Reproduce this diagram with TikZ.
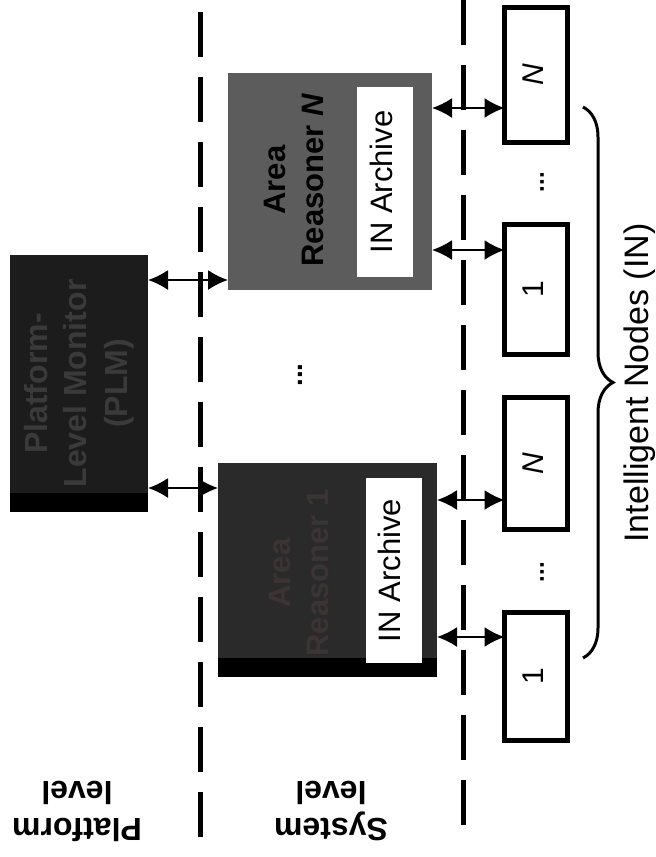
\documentclass[tikz,border=0pt]{standalone}
\usepackage{fontspec}
\setmainfont{Liberation Sans}
\usepackage{graphicx}
\usetikzlibrary{arrows.meta,decorations.pathreplacing,positioning}

\definecolor{plmfill}{HTML}{1C1C1C}
\definecolor{plmtext}{HTML}{3A3A3A}
\definecolor{arfill}{HTML}{2A2A2A}
\definecolor{artext}{HTML}{3C3434}
\definecolor{arNfill}{HTML}{5C5C5C}

\newcommand{\vtext}[1]{\rotatebox{90}{\begin{tabular}{@{}c@{}}#1\end{tabular}}}

\begin{document}
\begin{tikzpicture}[x=1pt, y=-1pt,
    link/.style={{Latex[length=20pt,width=20pt]}-{Latex[length=20pt,width=20pt]}, line width=2pt},
    levelline/.style={line width=5pt, dash pattern=on 45pt off 20pt},
    blockbox/.style={inner sep=0pt, outer sep=0pt},
    archive/.style={fill=white, inner sep=0pt, minimum width=56pt, font=\fontsize{31}{36}\selectfont},
    inbox/.style={draw, line width=5pt, fill=white, inner sep=0pt, outer sep=0pt, minimum width=63pt, font=\fontsize{30}{36}\selectfont},
    dots/.style={rotate=90, font=\bfseries\fontsize{24}{28}\selectfont},
    levellabel/.style={rotate=180, align=center, font=\bfseries\fontsize{32}{37}\selectfont}]

\useasboundingbox (0,0) rectangle (656,857);

\draw[levelline] (200,12) -- (200,842);
\draw[levelline] (463,0) -- (463,837);

\node[blockbox, fill=plmfill, text=plmtext, minimum width=138pt, minimum height=257pt,
    font=\bfseries\fontsize{32}{40}\selectfont] (plm) at (79,383.5) {\vtext{Platform-\\Level Monitor\\(PLM)}};
\fill (plm.south west) rectangle ([yshift=19pt]plm.south east);

\node[blockbox, fill=arNfill, minimum width=204pt, minimum height=217pt] (arN) at (330,181.5) {};
\node[font=\bfseries\fontsize{31}{38}\selectfont] (arNname) at (297,180) {\vtext{Area\\Reasoner \textit{N}}};
\node[archive, minimum height=190pt] (arNarch) at (385,182) {\vtext{IN Archive}};

\node[blockbox, fill=arfill, minimum width=219pt, minimum height=214pt] (ar1) at (327.5,570) {};
\fill (ar1.south west) rectangle ([yshift=19pt]ar1.south east);
\node[text=artext, font=\bfseries\fontsize{31}{38}\selectfont] (ar1name) at (302,573) {\vtext{Area\\Reasoner 1}};
\node[archive, minimum height=185pt] (ar1arch) at (393.5,570.5) {\vtext{IN Archive}};

\node[dots, font=\bfseries\fontsize{28}{30}\selectfont] (ardots) at (300,375) {...};

\node[inbox, minimum height=135pt] (inNb) at (536,75) {\vtext{\itshape N}};
\node[inbox, minimum height=130pt] (in1b) at (536,289.5) {\vtext{1}};
\node[inbox, minimum height=132pt] (inNa) at (536,463.5) {\vtext{\itshape N}};
\node[inbox, minimum height=128pt] (in1a) at (536,676.5) {\vtext{1}};
\node[dots] (indotsb) at (542,182) {...};
\node[dots] (indotsa) at (542,572) {...};

\coordinate (a1) at ([yshift=10pt]arN.south west);
\coordinate (a2) at ([yshift=-25pt]ar1.north west);
\draw[link] (plm.east |- a1) -- (a1);
\draw[link] (plm.east |- a2) -- (a2);

\coordinate (b1) at ([yshift=34.5pt]inNb.south west);
\coordinate (b2) at ([yshift=-25.5pt]in1b.north west);
\coordinate (b3) at ([yshift=29.5pt]inNa.south west);
\coordinate (b4) at ([yshift=-24.5pt]in1a.north west);
\draw[link] (arN.east |- b1) -- (b1);
\draw[link] (arN.east |- b2) -- (b2);
\draw[link] (ar1.east |- b3) -- (b3);
\draw[link] (ar1.east |- b4) -- (b4);

\coordinate (bracetop) at (583,107);
\coordinate (bracebot) at (583,658);
\draw[line width=3pt, decorate, decoration={brace, amplitude=30pt}] (bracetop) -- (bracebot);
\node[rotate=90, font=\fontsize{34}{38}\selectfont] (inlabel) at (640,383) {Intelligent Nodes (IN)};

\node[levellabel] (platlbl) at (77,811) {Platform\\level};
\node[levellabel] (syslbl) at (331,811) {System\\level};

\end{tikzpicture}
\end{document}
